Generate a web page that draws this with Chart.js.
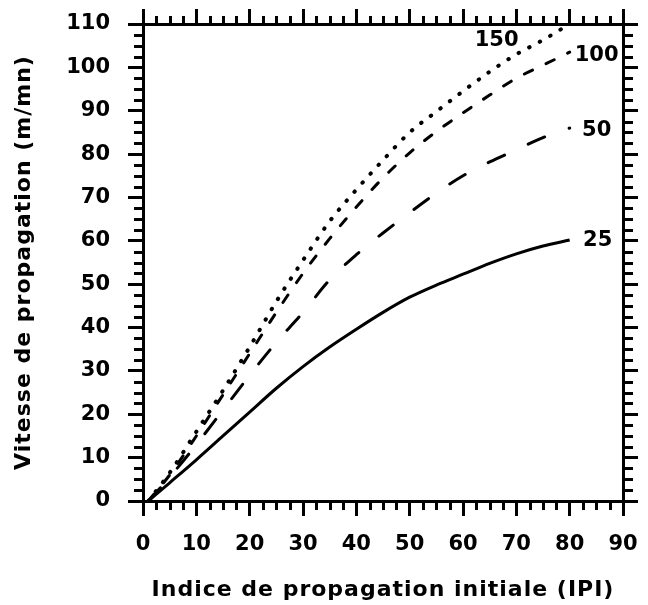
<!doctype html>
<html>

<head>
    <title>Vitesse de propagation</title>
    <script src="https://cdn.jsdelivr.net/npm/chart.js@4.4.0/dist/chart.umd.min.js"></script>
    <style>
        body {
            margin: 0;
            background: #fff;
        }
    </style>
</head>

<body>
    <canvas id="myChart" width="648" height="605"></canvas>
    <script>
        // IPI values (x) and speed for each curve (y)
        var ipi = [1, 5, 10, 15, 20, 25, 30, 35, 40, 45, 50, 55, 60, 65, 70, 75, 80];
        var v25 = [0, 4.2, 9.5, 15, 20.5, 26, 31, 35.5, 39.6, 43.5, 47, 49.8, 52.3, 54.8, 57, 58.8, 60.2];
        var v50 = [0, 5.5, 13, 21, 29, 36.6, 43.5, 51, 56.8, 61.8, 66.5, 71, 75, 78.2, 81, 83.8, 86];
        var v100 = [0, 6, 15, 24.5, 34, 43.5, 52.5, 60.5, 67.8, 74.5, 80.3, 85.2, 89.5, 93.6, 97.5, 100.5, 103.5];
        var v150 = [0, 6.5, 16, 25.5, 35.5, 46, 55.5, 64.5, 71.8, 78.6, 85, 89.8, 94.5, 99, 103, 106.3, 110];
        var curveNames = ['25', '50', '100', '150'];
        var xTitle = 'Indice de propagation initiale (IPI)';
        var yTitle = 'Vitesse de propagation (m/mn)';

        Chart.defaults.font.family = '"DejaVu Sans", Verdana, sans-serif';
        Chart.defaults.font.weight = 'bold';
        Chart.defaults.color = '#000';

        function pts(ys) {
            return ipi.map(function(x, i) { return {x: x, y: ys[i]}; });
        }

        // fixed box: 143..623 x 24..501
        function fitBox(size) {
            return function(s) {
                if (s.isHorizontal()) s.height = size;
                else s.width = size;
                s.paddingLeft = s.paddingRight = s.paddingTop = s.paddingBottom = 0;
            };
        }

        // axis titles are drawn with the grid layer (before datasets), so they get
        // the wide spacing; tick labels are moved to z=1 and drawn without it
        var spacing = {
            id: 'spacing',
            beforeDraw: function(chart) {
                chart.ctx.letterSpacing = '1px';
            },
            beforeDatasetsDraw: function(chart) {
                chart.ctx.letterSpacing = '0px';
            }
        };

        // minor ticks every 2.5 units, drawn outside the box like the major ones
        var minorTicks = {
            id: 'minorTicks',
            afterDraw: function(chart) {
                var c = chart.ctx;
                var len = 9;
                c.save();
                c.strokeStyle = '#000';
                c.lineWidth = 3;
                Object.values(chart.scales).forEach(function(s) {
                    for (var v = s.min + 2.5; v < s.max; v += 2.5) {
                        if (v % 10 === 0) continue;
                        var p = Math.round(s.getPixelForValue(v)) + 0.5;
                        c.beginPath();
                        if (s.position === 'bottom') {
                            c.moveTo(p, s.top + 1); c.lineTo(p, s.top + len);
                        } else if (s.position === 'top') {
                            c.moveTo(p, s.bottom - 1); c.lineTo(p, s.bottom - len + 1);
                        } else if (s.position === 'left') {
                            c.moveTo(s.right - 1, p); c.lineTo(s.right - len, p);
                        } else {
                            c.moveTo(s.left + 1, p); c.lineTo(s.left + len + 1, p);
                        }
                        c.stroke();
                    }
                });
                c.restore();
            }
        };

        // curve names next to the end of each line
        var endLabels = {
            id: 'endLabels',
            afterDatasetsDraw: function(chart, args, opts) {
                var c = chart.ctx;
                c.save();
                c.font = 'bold 21px "DejaVu Sans", Verdana, sans-serif';
                c.fillStyle = '#000';
                c.textAlign = 'center';
                c.textBaseline = 'middle';
                chart.data.datasets.forEach(function(ds, i) {
                    var meta = chart.getDatasetMeta(i);
                    var last = meta.data[meta.data.length - 1];
                    var off = opts.offsets[i];
                    c.fillText(ds.label, last.x + off[0], last.y + off[1]);
                });
                c.restore();
            }
        };

        var gridOpts = {
            drawOnChartArea: false,
            tickLength: 15,
            lineWidth: 3,
            color: '#000'
        };
        var borderOpts = {color: '#000', width: 3};

        var ctx = document.getElementById('myChart').getContext('2d');
        new Chart(ctx, {
            type: 'line',
            data: {
                datasets: [
                    {label: curveNames[0], data: pts(v25), borderWidth: 3},
                    {label: curveNames[1], data: pts(v50), borderWidth: 3, borderDash: [18, 26], borderCapStyle: 'round'},
                    {label: curveNames[2], data: pts(v100), borderWidth: 3, borderDash: [9, 15], borderCapStyle: 'round'},
                    {label: curveNames[3], data: pts(v150), borderWidth: 4, borderDash: [0.5, 11.5], borderCapStyle: 'round'}
                ]
            },
            options: {
                responsive: false,
                animation: false,
                layout: {padding: 0},
                elements: {
                    line: {borderColor: '#000', cubicInterpolationMode: 'monotone', fill: false},
                    point: {radius: 0}
                },
                plugins: {
                    legend: {display: false},
                    tooltip: {enabled: false},
                    endLabels: {offsets: [[28, 1], [27, 2], [27, 3], [-73, 17]]}
                },
                scales: {
                    x: {
                        type: 'linear', position: 'bottom', min: 0, max: 90,
                        ticks: {stepSize: 10, font: {size: 21}, padding: 16, z: 1},
                        grid: gridOpts, border: borderOpts,
                        title: {display: true, text: xTitle, font: {size: 22}, padding: {top: 0, bottom: 2}},
                        afterFit: fitBox(104)
                    },
                    xTop: {
                        type: 'linear', axis: 'x', position: 'top', min: 0, max: 90,
                        ticks: {stepSize: 10, display: false},
                        grid: gridOpts, border: borderOpts,
                        afterFit: fitBox(24)
                    },
                    y: {
                        type: 'linear', position: 'left', min: 0, max: 110,
                        ticks: {stepSize: 10, font: {size: 21}, padding: 18, z: 1},
                        grid: gridOpts, border: borderOpts,
                        title: {display: true, text: yTitle, font: {size: 22}, padding: {top: 11, bottom: 0}},
                        afterFit: fitBox(143)
                    },
                    yRight: {
                        type: 'linear', axis: 'y', position: 'right', min: 0, max: 110,
                        ticks: {stepSize: 10, display: false},
                        grid: gridOpts, border: borderOpts,
                        afterFit: fitBox(25)
                    }
                }
            },
            plugins: [spacing, minorTicks, endLabels]
        });
    </script>
</body>

</html>
